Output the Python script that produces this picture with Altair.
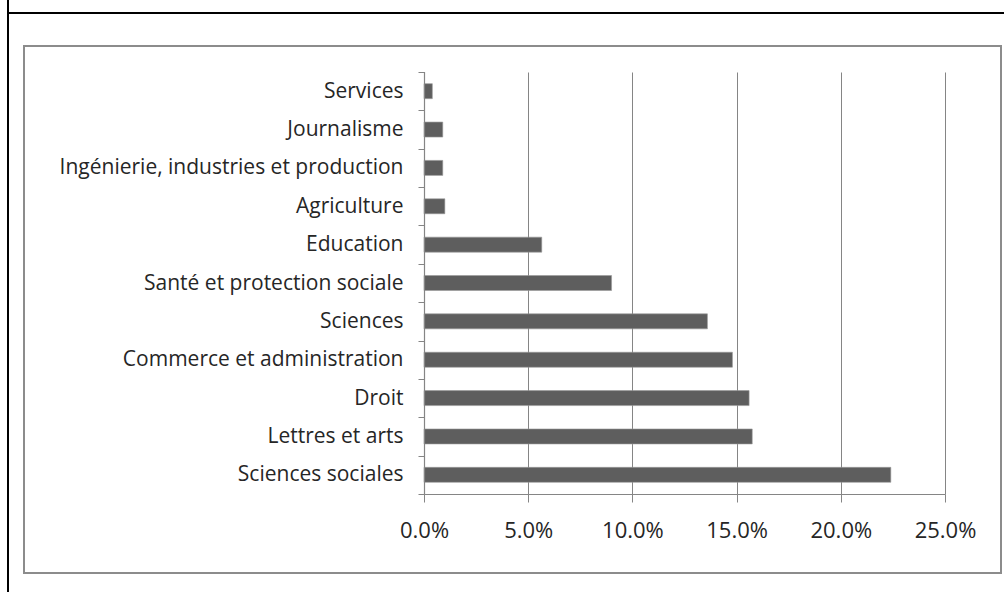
import altair as alt
import pandas as pd

# Share of graduates by field of study
fields = [
    "Services",
    "Journalisme",
    "Ingénierie, industries et production",
    "Agriculture",
    "Education",
    "Santé et protection sociale",
    "Sciences",
    "Commerce et administration",
    "Droit",
    "Lettres et arts",
    "Sciences sociales",
]
shares = [0.004, 0.009, 0.009, 0.010, 0.0565, 0.090, 0.136, 0.148, 0.156, 0.1575, 0.224]
x_ticks = [0.0, 0.05, 0.10, 0.15, 0.20, 0.25]

df = pd.DataFrame({"field": fields, "share": shares})

FONT = "Open Sans"
TEXT = "#262626"
GRID = "#858585"

W, H = 521, 422          # plot area
PL, PT = 424, 72         # plot origin on the page
PR, PB = 1004 - PL - W, 592 - PT - H

x_scale = alt.Scale(domain=[0, 0.25], nice=False)

bars = alt.Chart(df).mark_bar(
    color="#5e5e5e", stroke="#9a9a9a", strokeWidth=0.6, size=15
).encode(
    x=alt.X(
        "share:Q",
        scale=x_scale,
        axis=alt.Axis(
            values=x_ticks, format=".1%", title=None,
            grid=True, gridColor=GRID, gridWidth=1,
            domainColor=GRID, tickColor=GRID, tickSize=8,
            labelFont=FONT, labelFontSize=22, labelColor=TEXT,
            labelPadding=18, labelFlush=False,
        ),
    ),
    y=alt.Y(
        "field:N",
        sort=fields,
        scale=alt.Scale(paddingInner=0, paddingOuter=0),
        axis=alt.Axis(
            title=None, tickBand="extent",
            domainColor=GRID, tickColor=GRID, tickSize=6,
            labelFont=FONT, labelFontSize=21, labelColor=TEXT,
            labelPadding=15, labelLimit=420,
        ),
    ),
)

# Vertical axis line at zero
zero_line = alt.Chart(pd.DataFrame({"share": [0.0]})).mark_rule(
    color=GRID, strokeWidth=1.2, xOffset=0.5
).encode(x=alt.X("share:Q", scale=x_scale))

# Gray frame around the chart, and the black rules of the page around it
frame = alt.Chart(df).mark_rect(
    fill=None, stroke="#8c8c8c", strokeWidth=2
).encode(
    x=alt.value(24 - PL), x2=alt.value(1001 - PL),
    y=alt.value(46 - PT), y2=alt.value(573 - PT),
)
top_rule = alt.Chart(df).mark_rule(color="black", strokeWidth=2).encode(
    x=alt.value(8 - PL), x2=alt.value(1004 - PL), y=alt.value(13 - PT)
)
left_rule = alt.Chart(df).mark_rule(color="black", strokeWidth=2).encode(
    x=alt.value(8 - PL), y=alt.value(-PT), y2=alt.value(592 - PT)
)

chart = alt.layer(top_rule, left_rule, frame, bars, zero_line).properties(
    width=W, height=H,
    autosize=alt.AutoSizeParams(type="none"),
    padding={"left": PL, "top": PT, "right": PR, "bottom": PB},
    background="white",
).configure_view(stroke=None)

chart.save("out.html", embed_options={"renderer": "svg", "actions": False})
